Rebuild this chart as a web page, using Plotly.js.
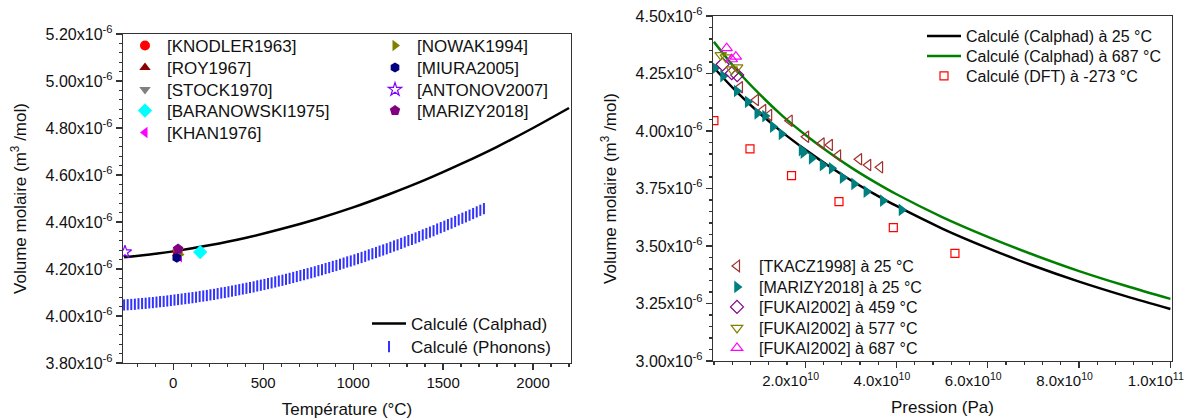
<!DOCTYPE html>
<html><head><meta charset="utf-8">
<script src="https://cdn.plot.ly/plotly-3.0.1.min.js"></script>
<style>html,body{margin:0;padding:0;background:#fff}#chart{width:1189px;height:420px}</style>
</head><body><div id="chart"></div>
<script>
// ---------- LEFT PANEL: molar volume vs temperature (values in 1e-6 m3/mol) ----------
const calphadT = [-273,-100,0,200,400,600,800,1000,1200,1400,1600,1800,2000,2200];
const calphadV = [4.250,4.265,4.275,4.301,4.332,4.370,4.413,4.462,4.518,4.579,4.647,4.720,4.800,4.885];

const phononT = [-273,-253,-233,-213,-193,-173,-153,-133,-113,-93,-73,-53,-33,-13,7,27,47,67,87,107,127,147,167,187,207,227,247,267,287,307,327,347,367,387,407,427,447,467,487,507,527,547,567,587,607,627,647,667,687,707,727,747,767,787,807,827,847,867,887,907,927,947,967,987,1007,1027,1047,1067,1087,1107,1127,1147,1167,1187,1207,1227,1247,1267,1287,1307,1327,1347,1367,1387,1407,1427,1447,1467,1487,1507,1527,1547,1567,1587,1607,1627,1647,1667,1687,1707,1727];
const phononV = [4.047,4.048,4.049,4.050,4.052,4.053,4.054,4.056,4.057,4.059,4.061,4.062,4.064,4.066,4.068,4.070,4.072,4.074,4.076,4.078,4.080,4.083,4.085,4.087,4.090,4.092,4.095,4.098,4.100,4.103,4.106,4.109,4.112,4.115,4.118,4.121,4.124,4.128,4.131,4.134,4.138,4.141,4.145,4.149,4.152,4.156,4.160,4.164,4.168,4.172,4.176,4.180,4.184,4.188,4.193,4.197,4.202,4.206,4.211,4.215,4.220,4.225,4.230,4.234,4.239,4.244,4.249,4.254,4.260,4.265,4.270,4.276,4.281,4.286,4.292,4.298,4.303,4.309,4.315,4.321,4.326,4.332,4.338,4.345,4.351,4.357,4.363,4.370,4.376,4.382,4.389,4.395,4.402,4.409,4.416,4.422,4.429,4.436,4.443,4.450,4.457];

const knodlerT = [25],  knodlerV = [4.272];
const royT = [25],      royV = [4.268];
const stockT = [25],    stockV = [4.275];
const baranowskiT = [150], baranowskiV = [4.272];
const khanT = [35],     khanV = [4.252];
const nowakT = [35],    nowakV = [4.262];
const miuraT = [20],    miuraV = [4.248];
const antonovT = [-268], antonovV = [4.272];
const marizyT = [27],   marizyV = [4.285];

const leftYTicks = [3.8,4.0,4.2,4.4,4.6,4.8,5.0,5.2];
const leftYText = ['3.80','4.00','4.20','4.40','4.60','4.80','5.00','5.20'];
const leftXTicks = [0,500,1000,1500,2000];

// ---------- RIGHT PANEL: molar volume vs pressure ----------
const pressGrid = [0,0.5e10,1e10,1.5e10,2e10,2.5e10,3e10,3.5e10,4e10,5e10,6e10,7e10,8e10,9e10,10e10];
const calphad25V  = [4.275,4.170,4.077,3.994,3.919,3.850,3.786,3.728,3.674,3.576,3.491,3.414,3.345,3.283,3.226];
const calphad687V = [4.388,4.265,4.160,4.066,3.984,3.910,3.842,3.781,3.725,3.626,3.540,3.462,3.391,3.328,3.270];

const dftP = [0,0.79e10,1.70e10,2.74e10,3.93e10,5.28e10];
const dftV = [4.045,3.922,3.806,3.693,3.580,3.468];

const tkaczP = [0.57e10,0.92e10,1.08e10,1.21e10,1.66e10,2.02e10,2.36e10,2.54e10,2.72e10,3.18e10,3.38e10,3.64e10];
const tkaczV = [4.190,4.135,4.091,4.070,4.045,3.975,3.946,3.939,3.893,3.877,3.852,3.842];

const marizy25P = [0.02e10,0.20e10,0.50e10,0.74e10,0.95e10,1.12e10,1.29e10,1.48e10,1.92e10,1.96e10,2.14e10,2.38e10,2.58e10,2.82e10,3.07e10,3.34e10,3.70e10,4.11e10];
const marizy25V = [4.273,4.239,4.174,4.127,4.077,4.065,4.019,3.987,3.917,3.906,3.881,3.852,3.838,3.797,3.770,3.736,3.697,3.657];

const fukai459P = [0.19e10,0.39e10,0.51e10], fukai459V = [4.290,4.251,4.243];
const fukai577P = [0.15e10,0.26e10,0.39e10,0.51e10], fukai577V = [4.330,4.320,4.268,4.277];
const fukai687P = [0.28e10,0.39e10,0.48e10], fukai687V = [4.360,4.312,4.323];

const rightYTicks = [3.0,3.25,3.5,3.75,4.0,4.25,4.5];
const rightYText = ['3.00','3.25','3.50','3.75','4.00','4.25','4.50'];
const rightXTicks = [2e10,4e10,6e10,8e10,1e11];
const rightXText = ['2.0x10<sup>10</sup>','4.0x10<sup>10</sup>','6.0x10<sup>10</sup>','8.0x10<sup>10</sup>','1.0x10<sup>11</sup>'];

// ---------- legend placement (pixels: left edge, row centre, font size) ----------
const legendBoxes = [
  [123, 46, 17], [123, 68, 17], [123, 90, 17], [123, 111, 17], [123, 133, 17],   // left column 1
  [373, 46, 17], [373, 68, 17], [373, 90, 17], [373, 111, 17],                   // left column 2
  [367, 324, 17], [367, 347, 17],                                                 // left bottom
  [922, 36, 16], [922, 56, 16], [922, 76, 16],                                    // right top
  [715, 266, 16], [715, 287, 16], [715, 307, 16], [715, 328, 16], [715, 348, 16]  // right bottom
];
const legId = i => i === 0 ? 'legend' : 'legend' + (i + 1);

// ---------- traces ----------
function pts(x, y, name, symbol, color, size, ax) {
  const open = symbol.indexOf('open') >= 0;
  return {x, y, name, type:'scatter', mode:'markers',
    xaxis: ax ? 'x2' : 'x', yaxis: ax ? 'y2' : 'y',
    marker:{symbol, size, color, line:{color, width: open ? 1.2 : 0}}};
}
const legendOrder = [
  pts(knodlerT, knodlerV, '[KNODLER1963]', 'circle', '#ff0000', 10),
  pts(royT, royV, '[ROY1967]', 'triangle-up', '#8b0000', 10),
  pts(stockT, stockV, '[STOCK1970]', 'triangle-down', '#808080', 10),
  pts(baranowskiT, baranowskiV, '[BARANOWSKI1975]', 'diamond', '#00ffff', 11),
  pts(khanT, khanV, '[KHAN1976]', 'triangle-left', '#ff00ff', 10),
  pts(nowakT, nowakV, '[NOWAK1994]', 'triangle-right', '#808000', 10),
  pts(miuraT, miuraV, '[MIURA2005]', 'hexagon', '#000080', 10),
  pts(antonovT, antonovV, '[ANTONOV2007]', 'star-open', '#8000ff', 10),
  pts(marizyT, marizyV, '[MARIZY2018]', 'pentagon', '#800080', 11),
  {x:calphadT, y:calphadV, name:'Calculé (Calphad)', type:'scatter', mode:'lines',
   line:{color:'#000', width:2.5, shape:'spline'}, xaxis:'x', yaxis:'y'},
  {x:phononT, y:phononV, name:'Calculé (Phonons)', type:'scatter', mode:'markers',
   marker:{symbol:'line-ns', size:8, color:'#3333ff', line:{color:'#3333ff', width:2}}, xaxis:'x', yaxis:'y'},
  {x:pressGrid, y:calphad25V, name:'Calculé (Calphad) à 25 °C', type:'scatter', mode:'lines',
   line:{color:'#000', width:2.5, shape:'spline'}, xaxis:'x2', yaxis:'y2'},
  {x:pressGrid, y:calphad687V, name:'Calculé (Calphad) à 687 °C', type:'scatter', mode:'lines',
   line:{color:'#008000', width:2.5, shape:'spline'}, xaxis:'x2', yaxis:'y2'},
  pts(dftP, dftV, 'Calculé (DFT) à -273 °C', 'square-open', '#ff0000', 8, 1),
  pts(tkaczP, tkaczV, '[TKACZ1998] à 25 °C', 'triangle-left-open', '#a0302c', 10, 1),
  pts(marizy25P, marizy25V, '[MARIZY2018] à 25 °C', 'triangle-right', '#008080', 11, 1),
  pts(fukai459P, fukai459V, '[FUKAI2002] à 459 °C', 'diamond-open', '#800080', 10, 1),
  pts(fukai577P, fukai577V, '[FUKAI2002] à 577 °C', 'triangle-down-open', '#808000', 10, 1),
  pts(fukai687P, fukai687V, '[FUKAI2002] à 687 °C', 'triangle-up-open', '#ff00ff', 10, 1)
];
legendOrder.forEach((t, i) => { t.legend = legId(i); });
// draw lines/bands beneath the markers
const traces = [9, 10, 11, 12].map(i => legendOrder[i])
  .concat(legendOrder.filter((t, i) => [9, 10, 11, 12].indexOf(i) < 0));

const fontFam = 'Arial, "Liberation Sans", sans-serif';
const axisCommon = {showline:true, linecolor:'#333', linewidth:1.3, mirror:true, ticks:'outside',
  ticklen:6, tickwidth:1.2, tickcolor:'#333', showgrid:false, zeroline:false, automargin:false,
  ticklabeloverflow:'allow', tickfont:{family:fontFam, size:15, color:'#111'}};

// right-axis pressure labels sit slightly left of their ticks in the reference
const padRight = '&nbsp;&nbsp;&nbsp;&nbsp;&nbsp;&nbsp;&nbsp;';

const layout = {
  width:1189, height:420, margin:{l:0,r:0,t:0,b:0},
  paper_bgcolor:'#fff', plot_bgcolor:'#fff', font:{family:fontFam, color:'#111'},
  showlegend:true,
  xaxis: Object.assign({}, axisCommon, {domain:[123/1189, 571/1189], range:[-279, 2211], anchor:'y',
    tickmode:'array', tickvals:leftXTicks, ticktext:leftXTicks.map(String),
    minor:{tickmode:'linear', tick0:0, dtick:100, ticks:'outside', ticklen:3, tickcolor:'#333'},
    title:{text:'Température (°C)', font:{family:fontFam, size:17, color:'#111'}, standoff:12}}),
  yaxis: Object.assign({}, axisCommon, {domain:[1-363/420, 1-34/420], range:[3.8, 5.2], anchor:'x',
    tickmode:'array', tickvals:leftYTicks, ticktext:leftYText.map(t => t + 'x10<sup>-6</sup>'),
    tickfont:{family:fontFam, size:16, color:'#111'},
    minor:{tickmode:'linear', tick0:3.8, dtick:0.04, ticks:'outside', ticklen:3, tickcolor:'#333'},
    title:{text:'Volume molaire (m<sup>3</sup> /mol)', font:{family:fontFam, size:17, color:'#111'}, standoff:14}}),
  xaxis2: Object.assign({}, axisCommon, {domain:[713/1189, 1172/1189], range:[-0.02e10, 1.0035e11], anchor:'y2',
    tickmode:'array', tickvals:rightXTicks, ticktext:rightXText.map(t => t + padRight),
    minor:{tickmode:'linear', tick0:0, dtick:4e9, ticks:'outside', ticklen:3, tickcolor:'#333'},
    title:{text:'Pression (Pa)', font:{family:fontFam, size:17, color:'#111'}, standoff:12}}),
  yaxis2: Object.assign({}, axisCommon, {domain:[1-361/420, 1-16/420], range:[3.0, 4.5], anchor:'x2',
    tickmode:'array', tickvals:rightYTicks, ticktext:rightYText.map(t => t + 'x10<sup>-6</sup>'),
    tickfont:{family:fontFam, size:16, color:'#111'},
    minor:{tickmode:'linear', tick0:3.0, dtick:0.05, ticks:'outside', ticklen:3, tickcolor:'#333'},
    title:{text:'Volume molaire (m<sup>3</sup> /mol)', font:{family:fontFam, size:17, color:'#111'}, standoff:14}})
};
legendBoxes.forEach((b, i) => {
  layout[legId(i)] = {x:b[0]/1189, y:1 - b[1]/420, xanchor:'left', yanchor:'middle',
    bgcolor:'rgba(0,0,0,0)', borderwidth:0, itemwidth:34,
    font:{family:fontFam, size:b[2], color:'#111'}, itemclick:false};
});

Plotly.newPlot('chart', traces, layout, {displayModeBar:false, staticPlot:true});
</script></body></html>
